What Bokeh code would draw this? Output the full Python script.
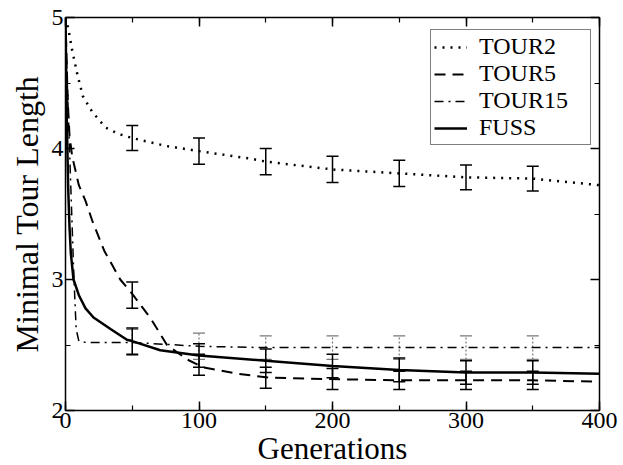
from bokeh.plotting import figure
from bokeh.models import (Range1d, LinearAxis, SingleIntervalTicker, Whisker, TeeHead,
                          ColumnDataSource, CustomJSTickFormatter, Legend, LegendItem)
from bokeh.embed import file_html
from bokeh.resources import INLINE

# ---------------- data ----------------
tour2_x = [0, 2, 5, 9, 13, 20, 30, 40, 50, 75, 100, 140, 150, 200, 250, 300, 350, 400]
tour2_y = [5.0, 4.92, 4.75, 4.56, 4.40, 4.28, 4.16, 4.11, 4.08, 4.02, 3.98, 3.92, 3.90, 3.84, 3.81, 3.78, 3.77, 3.72]

tour5_x = [0, 1, 2, 3, 5, 10, 15, 20, 29, 41, 50, 64, 76, 91, 103, 129, 153, 196, 250, 300, 350, 400]
tour5_y = [5.0, 4.6, 4.3, 4.1, 3.94, 3.72, 3.6, 3.45, 3.22, 3.0, 2.89, 2.70, 2.50, 2.39, 2.33, 2.28, 2.25, 2.24, 2.23, 2.23, 2.23, 2.22]

tour15_x = [0, 1, 2, 3, 4, 5, 6, 7, 8, 10, 15, 20, 50, 100, 150, 200, 250, 300, 350, 400]
tour15_y = [5.0, 4.6, 4.3, 4.0, 3.7, 3.4, 3.1, 2.85, 2.62, 2.53, 2.52, 2.52, 2.52, 2.49, 2.48, 2.48, 2.48, 2.48, 2.48, 2.48]

fuss_x = [0, 1, 2, 3, 4, 6, 10, 15, 21, 34, 46, 50, 71, 100, 150, 200, 250, 300, 350, 400]
fuss_y = [5.0, 4.2, 3.7, 3.4, 3.2, 3.0, 2.88, 2.78, 2.71, 2.62, 2.54, 2.53, 2.46, 2.42, 2.38, 2.34, 2.31, 2.29, 2.29, 2.28]

err_x = [50, 100, 150, 200, 250, 300, 350]
tour2_mean = [4.08, 3.98, 3.90, 3.84, 3.81, 3.78, 3.77]
tour2_err = [0.095, 0.10, 0.10, 0.10, 0.10, 0.095, 0.095]
tour5_mean = [2.88, 2.35, 2.25, 2.24, 2.23, 2.23, 2.23]
tour5_err = [0.10, 0.08, 0.08, 0.08, 0.07, 0.07, 0.07]
tour15_mean = [2.52, 2.49, 2.48, 2.48, 2.48, 2.48, 2.48]
tour15_err = [0.10, 0.10, 0.09, 0.09, 0.09, 0.09, 0.09]
fuss_mean = [2.53, 2.42, 2.38, 2.34, 2.31, 2.29, 2.29]
fuss_err = [0.10, 0.09, 0.09, 0.09, 0.09, 0.09, 0.09]

series_names = ["TOUR2", "TOUR5", "TOUR15", "FUSS"]
x_label = "Generations"
y_label = "Minimal Tour Length"

FONT = "Liberation Serif"

p = figure(frame_width=534, frame_height=393,
           x_range=Range1d(0, 400), y_range=Range1d(2, 5),
           output_backend="svg", toolbar_location=None,
           min_border_left=65, min_border_right=24, min_border_top=17, min_border_bottom=55)
p.grid.visible = False
p.outline_line_color = None

# lines
r1 = p.line(tour2_x, tour2_y, line_color="black", line_width=2.5, line_dash="2 6")
r2 = p.line(tour5_x, tour5_y, line_color="black", line_width=2, line_dash="11 7")
r3 = p.line(tour15_x, tour15_y, line_color="black", line_width=1.5, line_dash="9 5 2 5")
r4 = p.line(fuss_x, fuss_y, line_color="black", line_width=2.5)

def add_err(mean, err, color, dash, width):
    src = ColumnDataSource(dict(x=err_x,
                                lo=[m - e for m, e in zip(mean, err)],
                                hi=[m + e for m, e in zip(mean, err)]))
    w = Whisker(source=src, base="x", lower="lo", upper="hi",
                line_color=color, line_width=width, line_dash=dash,
                upper_head=TeeHead(size=12, line_color=color, line_width=width),
                lower_head=TeeHead(size=12, line_color=color, line_width=width))
    p.add_layout(w)

add_err(tour2_mean, tour2_err, "black", "solid", 1.5)
add_err(tour5_mean, tour5_err, "black", "solid", 1.5)
add_err(tour15_mean, tour15_err, "#777777", "2 2", 1.2)
add_err(fuss_mean, fuss_err, "black", "solid", 1.5)

# axes
bottom = p.xaxis[0]
left = p.yaxis[0]
bottom.ticker = SingleIntervalTicker(interval=100, num_minor_ticks=2)
left.ticker = SingleIntervalTicker(interval=1, num_minor_ticks=2)
bottom.axis_label = x_label
left.axis_label = y_label

top = LinearAxis(ticker=SingleIntervalTicker(interval=100, num_minor_ticks=2),
                 formatter=CustomJSTickFormatter(code="return ''"))
right = LinearAxis(ticker=SingleIntervalTicker(interval=1, num_minor_ticks=2),
                   formatter=CustomJSTickFormatter(code="return ''"))
p.add_layout(top, "above")
p.add_layout(right, "right")

for ax in [bottom, left, top, right]:
    ax.axis_line_color = "black"
    ax.axis_line_width = 1.5
    ax.major_tick_in = 9
    ax.major_tick_out = 0
    ax.minor_tick_in = 5
    ax.minor_tick_out = 0
    ax.major_tick_line_width = 1.5
    ax.minor_tick_line_width = 1.2
    ax.major_tick_line_color = "black"
    ax.minor_tick_line_color = "black"
    ax.major_label_text_font = FONT
    ax.major_label_text_font_size = "24px"
    ax.major_label_text_color = "black"
    ax.axis_label_text_font = FONT
    ax.axis_label_text_font_size = "31px"
    ax.axis_label_text_font_style = "normal"
    ax.axis_label_text_color = "black"
    ax.major_label_standoff = 2
    ax.axis_label_standoff = 0

left.axis_label_text_font_size = "32px"
left.axis_label_standoff = 4
top.major_label_text_font_size = "2px"
right.major_label_text_font_size = "2px"
top.major_label_standoff = 0
right.major_label_standoff = 0

lg = Legend(items=[LegendItem(label=n, renderers=[r]) for n, r in zip(series_names, [r1, r2, r3, r4])],
            location=(365, 265),
            label_text_font=FONT, label_text_font_size="24px",
            label_text_font_style="normal", label_text_color="black",
            label_height=22, label_width=108, glyph_height=22, glyph_width=33,
            label_standoff=12, spacing=0, padding=3, margin=0,
            border_line_color="black", border_line_width=1.2,
            background_fill_alpha=1)
p.add_layout(lg, "center")

open("out.html", "w").write(file_html(p, INLINE))
